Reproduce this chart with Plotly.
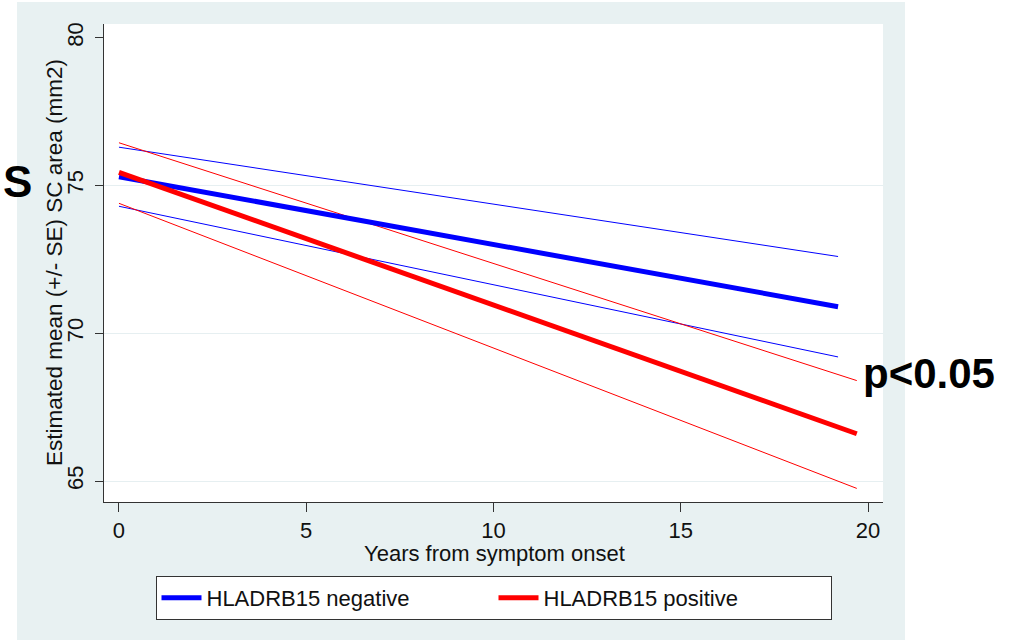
import plotly.graph_objects as go

# ---- data ----
years_neg = [0, 19.2]
neg_mean = [75.3, 70.9]
neg_upper = [76.3, 72.6]
neg_lower = [74.3, 69.2]

years_pos = [0, 19.7]
pos_mean = [75.45, 66.6]
pos_upper = [76.45, 68.4]
pos_lower = [74.4, 64.75]

x_ticks = [0, 5, 10, 15, 20]
y_ticks = [65, 70, 75, 80]
y_grid = [65, 70, 75]

x_title = "Years from symptom onset"
y_title = "Estimated mean (+/- SE) SC area (mm2)"

BLUE = "#0000ff"
RED = "#ff0000"
BG = "#e8f1f2"
FONT = "Liberation Sans, Arial, Helvetica, sans-serif"

fig = go.Figure()

# CI lines (thin)
fig.add_trace(go.Scatter(x=years_neg, y=neg_upper, mode="lines", line=dict(color=BLUE, width=1),
                         showlegend=False, hoverinfo="skip"))
fig.add_trace(go.Scatter(x=years_neg, y=neg_lower, mode="lines", line=dict(color=BLUE, width=1),
                         showlegend=False, hoverinfo="skip"))
fig.add_trace(go.Scatter(x=years_pos, y=pos_upper, mode="lines", line=dict(color=RED, width=1),
                         showlegend=False, hoverinfo="skip"))
fig.add_trace(go.Scatter(x=years_pos, y=pos_lower, mode="lines", line=dict(color=RED, width=1),
                         showlegend=False, hoverinfo="skip"))
# mean lines (thick)
fig.add_trace(go.Scatter(x=years_neg, y=neg_mean, mode="lines", name="HLADRB15 negative",
                         line=dict(color=BLUE, width=5)))
fig.add_trace(go.Scatter(x=years_pos, y=pos_mean, mode="lines", name="HLADRB15 positive",
                         line=dict(color=RED, width=5)))

# plot area pixels: x 104..883, y 24..502 of 1021x640
L, R, T, B = 104, 883, 24, 502
W, H = 1021, 640
pw, ph = R - L, B - T


def px_x(p):
    return (p - L) / pw


def px_y(p):
    return (B - p) / ph


fig.update_layout(
    width=W, height=H,
    margin=dict(l=L, r=W - R, t=T, b=H - B, pad=0),
    paper_bgcolor="white",
    plot_bgcolor="white",
    font=dict(family=FONT, size=22, color="#111111"),
    shapes=[
        dict(type="rect", xref="paper", yref="paper", x0=px_x(17), x1=px_x(905), y0=px_y(640), y1=px_y(2),
             fillcolor=BG, line=dict(width=0), layer="below"),
        dict(type="rect", xref="paper", yref="paper", x0=0, x1=1, y0=0, y1=1,
             fillcolor="white", line=dict(width=0), layer="below"),
    ],
    showlegend=True,
    legend=dict(
        orientation="h", x=0.5, xanchor="center", y=px_y(576), yanchor="top",
        bgcolor="white", bordercolor="#333333", borderwidth=1,
        font=dict(size=22, family=FONT, color="#111111"),
        entrywidth=282, entrywidthmode="pixels", itemwidth=40,
        traceorder="normal",
    ),
    annotations=[
        dict(text=x_title, xref="paper", yref="paper", x=px_x(494), y=px_y(553), xanchor="center",
             yanchor="middle", showarrow=False, font=dict(size=22, family=FONT, color="#111111")),
        dict(text=y_title, xref="paper", yref="paper", x=px_x(54), y=px_y(263), xanchor="center",
             yanchor="middle", showarrow=False, textangle=-90,
             font=dict(size=22.5, family=FONT, color="#111111")),
        dict(text="<b>S</b>", xref="paper", yref="paper", x=px_x(1), y=px_y(181), xanchor="left",
             yanchor="middle", showarrow=False, font=dict(size=44, family=FONT, color="black")),
        dict(text="<b>p<0.05</b>", xref="paper", yref="paper", x=px_x(861), y=px_y(373), xanchor="left",
             yanchor="middle", showarrow=False, font=dict(size=42, family=FONT, color="black")),
    ],
)

fig.update_xaxes(
    range=[-0.40, 20.40], tickvals=x_ticks, ticks="outside", ticklen=9, tickwidth=1, tickcolor="#333333",
    showline=True, linecolor="#333333", linewidth=1, showgrid=False, zeroline=False,
    tickfont=dict(size=22),
)
fig.update_yaxes(
    range=[64.29, 80.47], tickvals=y_ticks, ticks="outside", ticklen=8, tickwidth=1, tickcolor="#333333",
    showline=True, linecolor="#333333", linewidth=1, showgrid=False, ticklabelstandoff=3,
    minor=dict(tickmode="array", tickvals=y_grid, showgrid=True, gridcolor="#e6eff1", gridwidth=1, ticks=""),
    zeroline=False, tickangle=-90,
    tickfont=dict(size=22),
)

fig.write_html("out.html")
